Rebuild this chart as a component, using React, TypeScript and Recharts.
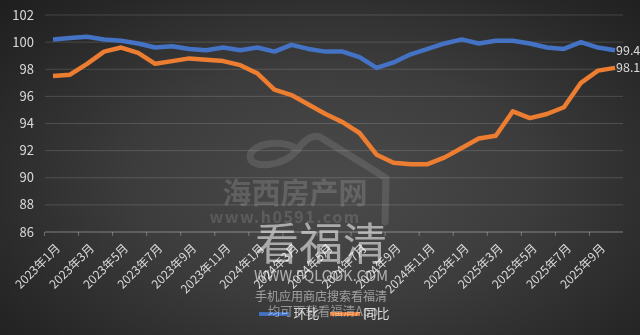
import { LineChart, Line, XAxis, YAxis, CartesianGrid, Legend, LabelList } from 'recharts';

const months = [
    '2023年1月', '2023年2月', '2023年3月', '2023年4月', '2023年5月', '2023年6月',
    '2023年7月', '2023年8月', '2023年9月', '2023年10月', '2023年11月', '2023年12月',
    '2024年1月', '2024年2月', '2024年3月', '2024年4月', '2024年5月', '2024年6月',
    '2024年7月', '2024年8月', '2024年9月', '2024年10月', '2024年11月', '2024年12月',
    '2025年1月', '2025年2月', '2025年3月', '2025年4月', '2025年5月', '2025年6月',
    '2025年7月', '2025年8月', '2025年9月', '2025年10月',
];

// 环比
const huanbi = [
    100.2, 100.3, 100.4, 100.2, 100.1, 99.9, 99.6, 99.7, 99.5, 99.4, 99.6, 99.4,
    99.6, 99.3, 99.8, 99.5, 99.3, 99.3, 98.9, 98.1, 98.5, 99.1, 99.5, 99.9,
    100.2, 99.9, 100.1, 100.1, 99.9, 99.6, 99.5, 100.0, 99.6, 99.4,
];

// 同比
const tongbi = [
    97.5, 97.6, 98.4, 99.3, 99.6, 99.2, 98.4, 98.6, 98.8, 98.7, 98.6, 98.3,
    97.7, 96.5, 96.1, 95.4, 94.7, 94.1, 93.3, 91.7, 91.1, 91.0, 91.0, 91.5,
    92.2, 92.9, 93.1, 94.9, 94.4, 94.7, 95.2, 97.0, 97.9, 98.1,
];

const seriesOrder = ['环比', '同比'];

const yTicks = [86, 88, 90, 92, 94, 96, 98, 100, 102];

const rows = months.map((m, i) => ({ month: m, huanbi: huanbi[i], tongbi: tongbi[i] }));

const FONT = "'Noto Sans CJK SC', 'Noto Sans', sans-serif";
const TEXT = '#d9d9d9';

const XTick = (props: any) => {
    const { x, y, payload, width } = props;
    const half = (width || 578) / months.length / 2;
    return (
        <g>
            <line x1={x - half} x2={x - half} y1={y - 8} y2={y - 4} stroke="rgba(255,255,255,0.3)" />
            <text
                x={x + 8}
                y={y + 9}
                textAnchor="end"
                fill={TEXT}
                fontSize={12}
                fontFamily={FONT}
                transform={`rotate(-45, ${x + 8}, ${y + 9})`}
            >
                {payload.value}
            </text>
        </g>
    );
};

const lastLabel = (color: string) => (props: any) => {
    const { x, y, value, index } = props;
    if (index !== months.length - 1) return null;
    return (
        <text x={x + 1} y={y} dy="0.35em" fill={color} fontSize={12.5} fontFamily={FONT}>
            {value}
        </text>
    );
};

const wm = (top: number, size: number, color: string, extra: any = {}) => ({
    position: 'absolute' as const,
    left: 0,
    width: 640,
    top,
    textAlign: 'center' as const,
    fontSize: size,
    lineHeight: 1,
    color,
    fontFamily: FONT,
    whiteSpace: 'nowrap' as const,
    ...extra,
});

export default function App() {
    return (
        <div
            style={{
                position: 'fixed',
                left: 0,
                top: 0,
                width: 640,
                height: 335,
                overflow: 'hidden',
                background: 'radial-gradient(ellipse 70% 80% at 52% 55%, #4b4b4b 0%, #3c3c3c 45%, #262626 85%, #1f1f1f 100%)',
            }}
        >
            <LineChart width={640} height={335} data={rows} margin={{ top: 15, right: 17, left: 0, bottom: 12 }}>
                <CartesianGrid vertical={false} stroke="rgba(255,255,255,0.15)" />
                <XAxis
                    dataKey="month"
                    interval={1}
                    height={67}
                    tickLine={false}
                    axisLine={{ stroke: 'rgba(255,255,255,0.25)' }}
                    padding={{ left: 8, right: 8 }}
                    tick={(p: any) => <XTick {...p} />}
                />
                <YAxis
                    domain={[86, 102]}
                    ticks={yTicks}
                    width={45}
                    axisLine={false}
                    tickLine={false}
                    tickMargin={5}
                    tick={{ fill: TEXT, fontSize: 13, fontFamily: FONT }}
                />
                <Legend
                    verticalAlign="bottom"
                    height={24}
                    iconType="plainline"
                    iconSize={30}
                    wrapperStyle={{ left: 18 }}
                    itemSorter={(item: any) => seriesOrder.indexOf(item.value)}
                    formatter={(v: string) => (
                        <span style={{ color: TEXT, fontSize: 13, fontFamily: FONT }}>{v}</span>
                    )}
                />
                <Line
                    type="linear"
                    dataKey="huanbi"
                    name="环比"
                    stroke="#4472c4"
                    strokeWidth={4.5}
                    dot={false}
                    strokeLinejoin="round"
                    isAnimationActive={false}
                >
                    <LabelList dataKey="huanbi" content={lastLabel(TEXT)} />
                </Line>
                <Line
                    type="linear"
                    dataKey="tongbi"
                    name="同比"
                    stroke="#ed7d31"
                    strokeWidth={4.5}
                    dot={false}
                    strokeLinejoin="round"
                    isAnimationActive={false}
                >
                    <LabelList dataKey="tongbi" content={lastLabel(TEXT)} />
                </Line>
            </LineChart>

            {/* watermark */}
            <div style={{ position: 'absolute', left: 0, top: 0, width: 640, height: 335, pointerEvents: 'none' }}>
                <svg width={640} height={335} style={{ position: 'absolute', left: 0, top: 0 }}>
                    <path
                        d="M 298 150 C 285 138, 250 143, 250 157 C 251 170, 285 166, 296 151 C 305 139, 313 134, 320 137 L 386 178 L 385 222"
                        fill="none"
                        stroke="rgba(255,255,255,0.11)"
                        strokeWidth={7}
                        strokeLinecap="round"
                        strokeLinejoin="round"
                    />
                </svg>
                <div style={wm(177, 29, 'rgba(255,255,255,0.15)', { left: -25, fontWeight: 700 })}>海西房产网</div>
                <div style={wm(208, 16, 'rgba(255,255,255,0.13)', { left: -35, letterSpacing: 1.5, fontWeight: 700 })}>www.h0591.com</div>
                <div style={wm(219, 44, 'rgba(255,255,255,0.55)', { left: 1 })}>看福清</div>
                <div style={wm(268, 14.5, 'rgba(255,255,255,0.6)', { left: 1 })}>WWW.FQLOOK.COM</div>
                <div style={wm(290, 12, 'rgba(255,255,255,0.5)', { left: 1 })}>手机应用商店搜索看福清</div>
                <div style={wm(305, 12.5, 'rgba(255,255,255,0.45)', { left: 3 })}>均可下载看福清App</div>
            </div>
        </div>
    );
}
